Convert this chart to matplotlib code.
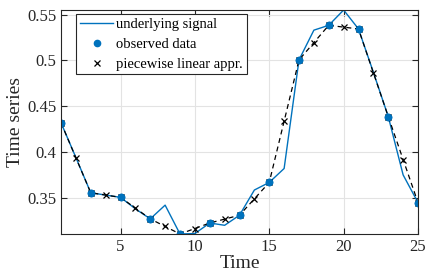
import numpy as np
import matplotlib
matplotlib.use("Agg")
from matplotlib import pyplot as plt

plt.rcParams['font.family'] = ['Liberation Serif', 'DejaVu Serif']
plt.rcParams['mathtext.fontset'] = 'stix'

# underlying signal at t = 1..25
t = np.arange(1, 26)
signal = [0.432, 0.394, 0.3555, 0.353, 0.3505, 0.338, 0.327, 0.342, 0.3105, 0.311,
          0.3225, 0.320, 0.331, 0.3585, 0.3668, 0.382, 0.5005, 0.533, 0.5383, 0.555,
          0.5343, 0.487, 0.4387, 0.375, 0.3448]

# observed data at odd times
t_obs = t[::2]
obs = signal[::2]

# piecewise linear approximation at every time step
approx = np.interp(t, t_obs, obs)

blue = '#0072BD'

fig = plt.figure(figsize=(4.25, 2.74), dpi=100)
ax = fig.add_axes([61/425, 40/274, 357/425, 224/274])

ax.plot(t, signal, color=blue, lw=1.0, label='underlying signal')
ax.plot(t_obs, obs, 'o', color=blue, ms=4.5, label='observed data')
ax.plot(t, approx, '--', color='black', lw=0.9, dashes=(4, 3))
ax.plot(t, approx, 'x', color='black', ms=5, mew=0.9, label='piecewise linear appr.')
# dots on top
ax.plot(t_obs, obs, 'o', color=blue, ms=4.5)

ax.set_xlim(1, 25)
ax.set_ylim(min(signal), max(signal))
ax.set_xticks([5, 10, 15, 20, 25])
ax.set_yticks([0.35, 0.4, 0.45, 0.5, 0.55])
ax.set_yticklabels(['0.35', '0.4', '0.45', '0.5', '0.55'])
ax.grid(True, color='#e3e3e3', lw=0.8)
ax.set_axisbelow(True)
ax.tick_params(direction='in', top=True, right=True, labelsize=12, length=4,
               colors='#262626')
for s in ax.spines.values():
    s.set_color('#262626')
    s.set_linewidth(0.8)

ax.set_xlabel('Time', fontsize=14, labelpad=0, color='#262626')
ax.set_ylabel('Time series', fontsize=14, labelpad=2, color='#262626')

leg = ax.legend(loc='upper left', fontsize=10.5, fancybox=False, framealpha=1,
                edgecolor='#262626', borderpad=0.25, labelspacing=0.45,
                handlelength=2.3, handletextpad=0.2, borderaxespad=0.3,
                bbox_to_anchor=(0.03, 1.0))
leg.get_frame().set_linewidth(0.8)

fig.savefig('out.png', dpi=100)
